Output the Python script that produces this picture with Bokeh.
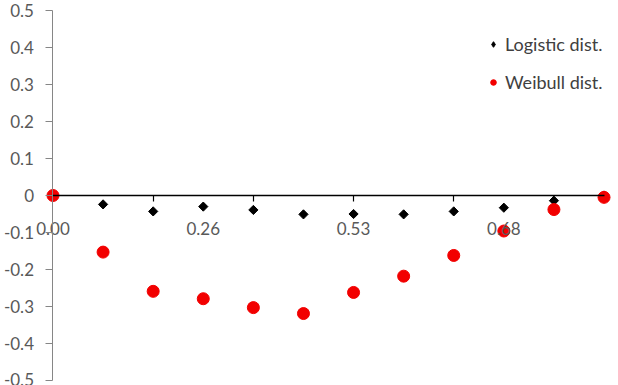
from bokeh.plotting import figure
from bokeh.models import LinearAxis, FixedTicker, Range1d
from bokeh.embed import file_html
from bokeh.resources import INLINE

# Category values (only every third one is labelled in the chart)
categories = ["0.00", "0.09", "0.17", "0.26", "0.35", "0.44",
              "0.53", "0.58", "0.63", "0.68", "0.84", "1.00"]
logistic = [0.0, -0.024, -0.043, -0.030, -0.039, -0.051,
            -0.050, -0.051, -0.043, -0.033, -0.014, 0.0]
weibull = [0.0, -0.153, -0.259, -0.279, -0.303, -0.319,
           -0.262, -0.218, -0.162, -0.096, -0.038, -0.005]
y_ticks = [-0.5, -0.4, -0.3, -0.2, -0.1, 0.0, 0.1, 0.2, 0.3, 0.4, 0.5]

xs = list(range(len(categories)))
label_every = 3
tick_every = 2

FONT = "Lato"

p = figure(width=618, height=385, output_backend="svg", toolbar_location=None,
           x_range=Range1d(-1.048, 11.289), y_range=Range1d(-0.5135, 0.527),
           x_axis_type=None, y_axis_type=None,
           min_border_left=0, min_border_right=0, min_border_top=0, min_border_bottom=0)
p.outline_line_color = None
p.xgrid.visible = False
p.ygrid.visible = False
p.background_fill_color = "white"
p.border_fill_color = "white"

# Y axis crossing at x = first category
yaxis = LinearAxis(ticker=FixedTicker(ticks=y_ticks), fixed_location=0,
                   bounds=(min(y_ticks), max(y_ticks)),
                   axis_line_color="#868686", axis_line_width=1,
                   major_tick_line_color="#868686", major_tick_out=7, major_tick_in=0,
                   minor_tick_out=0, minor_tick_in=0,
                   major_label_standoff=12,
                   major_label_text_font=FONT, major_label_text_font_size="17px",
                   major_label_text_color="#595959")
yaxis.major_label_overrides = {t: ("0" if t == 0 else f"{t:.1f}") for t in y_ticks}
p.add_layout(yaxis, "left")

# X axis line with tick marks every 2 categories
xaxis_ticks = LinearAxis(ticker=FixedTicker(ticks=xs[tick_every::tick_every]), fixed_location=0,
                         bounds=(0, len(categories) - 1),
                         axis_line_color="black", axis_line_width=1.5,
                         major_tick_line_color="black", major_tick_line_width=1.2,
                         major_tick_out=6, major_tick_in=0,
                         minor_tick_out=0, minor_tick_in=0,
                         major_label_text_alpha=0)
p.add_layout(xaxis_ticks, "below")

# X axis labels every 3 categories
lab_pos = xs[::label_every]
xaxis_labels = LinearAxis(ticker=FixedTicker(ticks=lab_pos), fixed_location=0,
                          axis_line_alpha=0, major_tick_out=0, major_tick_in=0,
                          minor_tick_out=0, minor_tick_in=0,
                          major_label_standoff=27,
                          major_label_text_font=FONT, major_label_text_font_size="17px",
                          major_label_text_color="#595959")
xaxis_labels.major_label_overrides = {i: categories[i] for i in lab_pos}
p.add_layout(xaxis_labels, "below")

p.scatter(xs, logistic, marker="square", angle=0.785398, size=6.5,
          fill_color="black", line_color="black")
p.scatter(xs, weibull, marker="circle", size=12,
          fill_color="#f20000", line_color="#f20000", legend_label="Weibull dist.")
# legend key for the diamonds (not drawn in the plot area)
nan = float("nan")
p.scatter([nan], [nan], marker="diamond", size=10,
          fill_color="black", line_color="black", legend_label="Logistic dist.")

lg = p.legend[0]
lg.items = [lg.items[1], lg.items[0]]
lg.location = (486, 292)
lg.border_line_color = None
lg.background_fill_alpha = 0
lg.padding = 10
lg.spacing = 16
lg.glyph_width = 14
lg.glyph_height = 20
lg.label_height = 20
lg.label_standoff = 5
lg.label_text_font = FONT
lg.label_text_font_size = "18px"
lg.label_text_color = "#404040"

open("out.html", "w").write(file_html(p, INLINE))
